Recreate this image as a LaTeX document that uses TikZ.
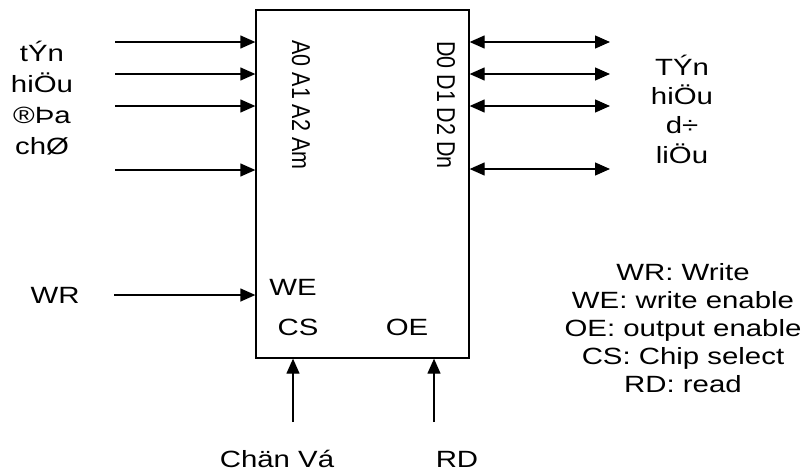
\documentclass[tikz,border=0pt]{standalone}
\usepackage{fontspec}
\setmainfont{Liberation Sans}[FakeStretch=1.25]
\newfontfamily\rotfont{Liberation Sans}
\usetikzlibrary{arrows.meta,positioning}

\begin{document}
\begin{tikzpicture}[
  x=1pt,y=-1pt,
  lbl/.style={inner sep=0pt,font=\fontsize{23.5}{31}\selectfont,align=center},
  pinlbl/.style={inner sep=0pt,font=\rotfont\fontsize{21.5}{26}\selectfont,xscale=1.2,rotate=-90},
  chipbox/.style={draw,line width=1.3pt,minimum width=213pt,minimum height=348pt,inner sep=0pt},
  arr/.style={-{Triangle[length=15pt,width=13pt]},line width=1.3pt},
  darr/.style={{Triangle[length=15pt,width=13pt]}-{Triangle[length=15pt,width=13pt]},line width=1.3pt}
]
\useasboundingbox (0,0) rectangle (804,474);
\node[chipbox] (chip) at (362.5,184) {};
% address and data lines
\foreach \y/\n in {42/a0,74/a1,106/a2,170/am} {
  \coordinate (\n) at (115,\y);
  \draw[arr] (\n) -- (\n -| chip.west);
}
\foreach \y/\n in {42/d0,74/d1,106/d2,169/dn} {
  \coordinate (\n) at (610,\y);
  \draw[darr] (\n -| chip.east) -- (\n);
}
% control lines
\coordinate (wr) at (114,295);
\draw[arr] (wr) -- (wr -| chip.west);
\coordinate (cs) at (293,422);
\draw[arr] (cs) -- (cs |- chip.south);
\coordinate (oe) at (434,422);
\draw[arr] (oe) -- (oe |- chip.south);
% labels
\node[lbl] (addr) at (42,98) {tÝn\\hiÖu\\®Þa\\chØ};
\node[lbl,font=\fontsize{23.5}{29.3}\selectfont] (data) at (682,109) {TÝn\\hiÖu\\d÷\\liÖu};
\node[pinlbl] (apins) at (301,105) {A0 A1 A2 Am};
\node[pinlbl] (dpins) at (446,105) {D0 D1 D2 Dn};
\node[lbl] (we) at (293,287) {WE};
\node[lbl] (cslbl) at (298,327) {CS};
\node[lbl] (oelbl) at (407,327) {OE};
\node[lbl] (wrlbl) at (55,295) {WR};
\node[lbl,font=\fontsize{23.5}{27.8}\selectfont] (legend) at (683,328) {WR: Write\\WE: write enable\\OE: output enable\\CS: Chip select\\RD: read};
\node[lbl] (sel) at (277,459) {Chän Vá};
\node[lbl] (rd) at (457,459) {RD};
\end{tikzpicture}
\end{document}
